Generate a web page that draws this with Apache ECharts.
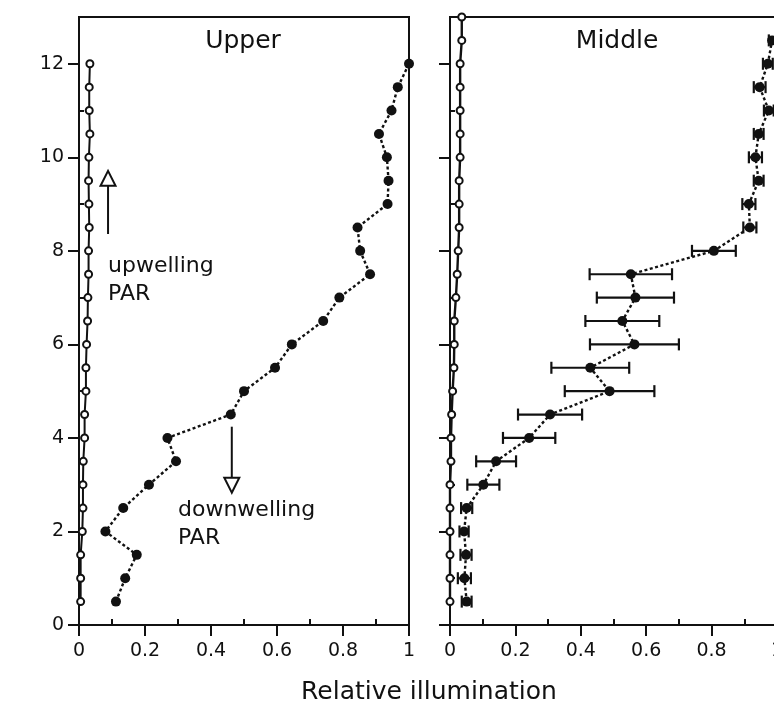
<!DOCTYPE html>
<html>
<head>
<meta charset="utf-8">
<script src="https://cdn.jsdelivr.net/npm/echarts@6/dist/echarts.min.js"></script>
<style>
  html, body { margin: 0; padding: 0; background: #fff; }
  #chart { width: 774px; height: 707px; }
</style>
</head>
<body>
<div id="chart"></div>
<script>
// Sensor heights (m)
const upperHeights = [0.5, 1, 1.5, 2, 2.5, 3, 3.5, 4, 4.5, 5, 5.5, 6, 6.5, 7, 7.5, 8, 8.5, 9, 9.5, 10, 10.5, 11, 11.5, 12];
const middleHeights = [0.5, 1, 1.5, 2, 2.5, 3, 3.5, 4, 4.5, 5, 5.5, 6, 6.5, 7, 7.5, 8, 8.5, 9, 9.5, 10, 10.5, 11, 11.5, 12, 12.5];
const middleUpHeights = [0.5, 1, 1.5, 2, 2.5, 3, 3.5, 4, 4.5, 5, 5.5, 6, 6.5, 7, 7.5, 8, 8.5, 9, 9.5, 10, 10.5, 11, 11.5, 12, 12.5, 13];

// Upper canopy: relative illumination
const upperDown = [0.112, 0.140, 0.175, 0.080, 0.134, 0.212, 0.294, 0.268, 0.460, 0.500, 0.594, 0.645, 0.740, 0.789, 0.882, 0.852, 0.844, 0.935, 0.938, 0.933, 0.909, 0.947, 0.966, 1.0];
const upperUp = [0.005, 0.005, 0.005, 0.010, 0.012, 0.012, 0.013, 0.017, 0.017, 0.021, 0.021, 0.023, 0.026, 0.027, 0.029, 0.029, 0.031, 0.030, 0.029, 0.030, 0.033, 0.031, 0.031, 0.033];

// Middle canopy: relative illumination with spread (half-width)
const middleDown = [0.051, 0.044, 0.049, 0.043, 0.051, 0.102, 0.141, 0.242, 0.306, 0.488, 0.429, 0.564, 0.527, 0.567, 0.553, 0.807, 0.917, 0.914, 0.944, 0.934, 0.944, 0.975, 0.947, 0.972, 0.985];
const middleDownErr = [0.015, 0.020, 0.017, 0.014, 0.017, 0.049, 0.061, 0.080, 0.098, 0.137, 0.119, 0.136, 0.113, 0.118, 0.126, 0.067, 0.020, 0.020, 0.015, 0.020, 0.015, 0.015, 0.018, 0.015, 0.010];
const middleUp = [0.0, 0.0, 0.0, 0.0, 0.0, 0.0, 0.003, 0.003, 0.005, 0.008, 0.012, 0.013, 0.013, 0.018, 0.022, 0.025, 0.028, 0.028, 0.028, 0.031, 0.031, 0.031, 0.031, 0.031, 0.036, 0.036];

// Axis ticks
const xMajorTicks = [0, 0.2, 0.4, 0.6, 0.8, 1];
const xMinorTicks = [0.1, 0.3, 0.5, 0.7, 0.9];
const yMajorTicks = [0, 2, 4, 6, 8, 10, 12];
const yMinorTicks = [1, 3, 5, 7, 9, 11, 13];

const panelTitles = ['Upper', 'Middle'];
const xAxisTitle = 'Relative illumination';
const yAxisTitle = 'Height (m)';
const upLabel = ['upwelling', 'PAR'];
const downLabel = ['downwelling', 'PAR'];

const INK = '#111';
const FONT = 'DejaVu Sans';

const zip = (xs, ys) => xs.map((x, i) => [x, ys[i]]);

function xAxes(gridIndex, showLabels) {
  return [
    {
      type: 'value', gridIndex, min: 0, max: 1,
      axisLine: { show: true, onZero: false, lineStyle: { color: INK, width: 2 } },
      axisTick: { show: true, customValues: xMajorTicks, length: 11, lineStyle: { color: INK, width: 2 } },
      axisLabel: { show: showLabels, customValues: xMajorTicks, margin: 17, color: INK, fontFamily: FONT, fontSize: 19, hideOverlap: false },
      splitLine: { show: false }
    },
    {
      type: 'value', gridIndex, min: 0, max: 1,
      axisLine: { show: false },
      axisTick: { show: true, customValues: xMinorTicks, length: 6, lineStyle: { color: INK, width: 2 } },
      axisLabel: { show: false },
      splitLine: { show: false }
    }
  ];
}

function yAxes(gridIndex, showLabels) {
  return [
    {
      type: 'value', gridIndex, min: 0, max: 13,
      axisLine: { show: true, onZero: false, lineStyle: { color: INK, width: 2 } },
      axisTick: { show: true, customValues: yMajorTicks, length: 11, lineStyle: { color: INK, width: 2 } },
      axisLabel: { show: showLabels, customValues: yMajorTicks, margin: 15, color: INK, fontFamily: FONT, fontSize: 19 },
      splitLine: { show: false }
    },
    {
      type: 'value', gridIndex, min: 0, max: 13,
      axisLine: { show: false },
      axisTick: { show: true, customValues: yMinorTicks, length: 5, lineStyle: { color: INK, width: 2 } },
      axisLabel: { show: false },
      splitLine: { show: false }
    }
  ];
}

const downLine = { color: INK, width: 2.4, type: [3, 2.5] };
const upLine = { color: INK, width: 2, type: 'solid' };

const chart = echarts.init(document.getElementById('chart'), null, { renderer: 'canvas' });

const gridBase = { top: 17, height: 608, show: true, borderColor: INK, borderWidth: 2, backgroundColor: 'transparent', containLabel: false, outerBoundsMode: 'none' };

chart.setOption({
  backgroundColor: '#fff',
  animation: false,
  grid: [
    Object.assign({ left: 79, width: 330 }, gridBase),
    Object.assign({ left: 450, width: 327 }, gridBase)
  ],
  xAxis: [...xAxes(0, true), ...xAxes(1, true)],
  yAxis: [...yAxes(0, true), ...yAxes(1, false)],
  series: [
    {
      name: 'upper upwelling', type: 'line', xAxisIndex: 0, yAxisIndex: 0,
      data: zip(upperUp, upperHeights),
      symbol: 'emptyCircle', symbolSize: 7,
      lineStyle: upLine,
      itemStyle: { color: INK, borderColor: INK, borderWidth: 1.8 },
      z: 3
    },
    {
      name: 'upper downwelling', type: 'line', xAxisIndex: 0, yAxisIndex: 0,
      data: zip(upperDown, upperHeights),
      symbol: 'circle', symbolSize: 10,
      lineStyle: downLine,
      itemStyle: { color: INK },
      z: 4
    },
    {
      name: 'middle upwelling', type: 'line', xAxisIndex: 2, yAxisIndex: 2,
      data: zip(middleUp, middleUpHeights),
      symbol: 'emptyCircle', symbolSize: 7,
      lineStyle: { color: INK, width: 2.4, type: 'solid' },
      itemStyle: { color: INK, borderColor: INK, borderWidth: 1.8 },
      z: 3
    },
    {
      name: 'middle spread', type: 'custom', xAxisIndex: 2, yAxisIndex: 2,
      data: middleDown.map((v, i) => [v - middleDownErr[i], middleHeights[i], v + middleDownErr[i]]),
      encode: { x: [0, 2], y: 1 },
      renderItem(params, api) {
        const y = api.value(1);
        const a = api.coord([api.value(0), y]);
        const b = api.coord([api.value(2), y]);
        const cap = 6;
        const st = { stroke: INK, lineWidth: 2.2 };
        return {
          type: 'group',
          children: [
            { type: 'line', shape: { x1: a[0], y1: a[1], x2: b[0], y2: b[1] }, style: st },
            { type: 'line', shape: { x1: a[0], y1: a[1] - cap, x2: a[0], y2: a[1] + cap }, style: st },
            { type: 'line', shape: { x1: b[0], y1: b[1] - cap, x2: b[0], y2: b[1] + cap }, style: st }
          ]
        };
      },
      z: 2
    },
    {
      name: 'middle downwelling', type: 'line', xAxisIndex: 2, yAxisIndex: 2,
      data: zip(middleDown, middleHeights),
      symbol: 'circle', symbolSize: 10,
      lineStyle: downLine,
      itemStyle: { color: INK },
      z: 4
    }
  ]
});

// Panel titles, axis titles and the PAR arrows, placed in data space
function px(grid, x, y) {
  return chart.convertToPixel({ xAxisIndex: grid * 2, yAxisIndex: grid * 2 }, [x, y]);
}

function textEl(str, pos, size, align, extra) {
  return Object.assign({
    type: 'text', x: pos[0], y: pos[1], silent: true,
    style: { text: str, fill: INK, font: size + 'px "' + FONT + '"', align: align, verticalAlign: 'middle' }
  }, extra || {});
}

function arrow(grid, x, yFrom, yTo) {
  const tail = px(grid, x, yFrom);
  const tip = px(grid, x, yTo);
  const dir = tip[1] < tail[1] ? 1 : -1; // +1 when pointing up
  const head = 15, half = 7.5;
  const base = tip[1] + dir * head;
  return [
    { type: 'line', silent: true, shape: { x1: tail[0], y1: tail[1], x2: tail[0], y2: base }, style: { stroke: INK, lineWidth: 2 } },
    { type: 'polygon', silent: true, shape: { points: [[tip[0], tip[1]], [tip[0] - half, base], [tip[0] + half, base]] }, style: { fill: '#fff', stroke: INK, lineWidth: 2 } }
  ];
}

const g = [];
g.push(textEl(panelTitles[0], px(0, 0.497, 12.47), 25, 'center'));
g.push(textEl(panelTitles[1], px(1, 0.511, 12.47), 25, 'center'));
g.push(...arrow(0, 0.088, 8.36, 9.71));
g.push(textEl(upLabel[0], px(0, 0.088, 7.66), 22, 'left'));
g.push(textEl(upLabel[1], px(0, 0.088, 7.07), 22, 'left'));
g.push(...arrow(0, 0.463, 4.24, 2.83));
g.push(textEl(downLabel[0], px(0, 0.30, 2.46), 22, 'left'));
g.push(textEl(downLabel[1], px(0, 0.30, 1.86), 22, 'left'));
g.push(textEl(xAxisTitle, [429, 692], 25, 'center'));
g.push(textEl(yAxisTitle, [20, 335], 22, 'center', { rotation: Math.PI / 2, originX: 20, originY: 335 }));

chart.setOption({ graphic: g });
</script>
</body>
</html>
